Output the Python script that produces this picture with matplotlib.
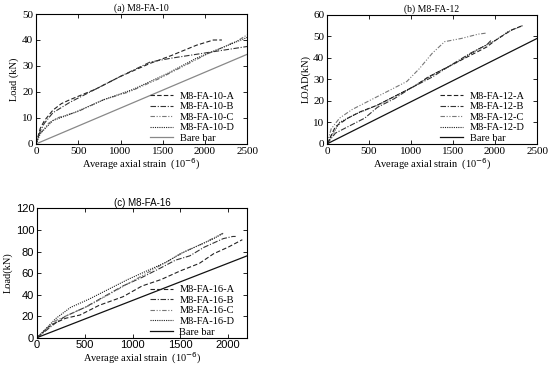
import numpy as np
import matplotlib
matplotlib.use('Agg')
import matplotlib.pyplot as plt

plt.rcParams['font.family'] = ['Liberation Serif', 'DejaVu Serif']

# (a) M8-FA-10
a_A_x = [0, 50, 100, 200, 300, 400, 700, 1000, 1350, 1600, 1900, 2100, 2200]
a_A_y = [0, 6, 9, 13, 15.5, 17, 21, 26, 31, 34, 38, 40, 40]
a_B_x = [0, 50, 100, 200, 400, 700, 1000, 1350, 1600, 1800, 2000, 2200, 2500]
a_B_y = [0, 5, 8, 12, 16, 21, 26, 31.5, 33, 34, 35, 36, 37.5]
a_C_x = [0, 50, 150, 250, 500, 800, 1100, 1450, 1750, 2050, 2200, 2400, 2500]
a_C_y = [0, 4, 8, 10, 12.5, 17, 20, 25, 30, 35, 37, 40, 42]
a_D_x = [0, 50, 200, 450, 800, 1150, 1550, 1900, 2200, 2500]
a_D_y = [0, 4, 9, 12, 17, 21, 27, 33, 37, 41]
a_bare_x = [0, 2500]
a_bare_y = [0, 34.5]

# (b) M8-FA-12
b_A_x = [0, 100, 250, 400, 600, 800, 1050, 1200, 1400, 1650, 1900, 2000, 2200, 2330]
b_A_y = [0, 8, 12, 15, 18, 22, 27, 31, 35, 40, 45, 48, 53, 55]
b_B_x = [0, 100, 250, 450, 600, 800, 1000, 1250, 1450, 1700, 1900, 1950]
b_B_y = [0, 5, 8, 12, 17, 21, 26, 31, 36, 42, 46, 48]
b_C_x = [0, 50, 150, 300, 550, 750, 950, 1100, 1250, 1400, 1600, 1800, 1900]
b_C_y = [0, 7, 12, 16, 21, 25, 29, 35, 42, 47.5, 49, 51, 51.5]
b_D_x = [0, 150, 350, 600, 800, 1000, 1300, 1550, 1800, 2000, 2150, 2330]
b_D_y = [0, 10, 14, 18, 22, 26, 33, 38, 44, 48, 52, 55]
b_bare_x = [0, 2500]
b_bare_y = [0, 49]

# (c) M8-FA-16
c_A_x = [0, 150, 300, 450, 650, 900, 1100, 1300, 1500, 1700, 1850, 2000, 2150]
c_A_y = [0, 12, 18, 21, 30, 38, 48, 54, 62, 69, 78, 84, 91]
c_B_x = [0, 200, 300, 500, 700, 900, 1100, 1300, 1450, 1600, 1750, 1950, 2050, 2080]
c_B_y = [0, 14, 20, 28, 38, 48, 56, 65, 72, 76, 84, 92, 94, 94]
c_C_x = [0, 200, 350, 550, 750, 950, 1150, 1350, 1550, 1750, 1900, 1950]
c_C_y = [0, 16, 22, 30, 40, 50, 60, 70, 80, 88, 95, 97]
c_D_x = [0, 200, 350, 550, 750, 950, 1150, 1350, 1500, 1700, 1850, 1950]
c_D_y = [0, 18, 28, 36, 45, 54, 62, 70, 78, 86, 92, 97]
c_bare_x = [0, 2200]
c_bare_y = [0, 76]

styles = [
    dict(color='#222222', ls=(0, (4, 2))),
    dict(color='#333333', ls=(0, (5, 1.5, 1, 1.5))),
    dict(color='#777777', ls=(0, (4, 1.5, 1, 1.5, 1, 1.5))),
    dict(color='#222222', ls=(0, (1, 1))),
]

fig = plt.figure(figsize=(5.5, 3.69), dpi=100)

def panel(rect, data, bare, bare_color, names, title, ylabel, xlim, ylim,
          xticks, yticks, sans=False):
    ax = fig.add_axes(rect)
    for (x, y), st, nm in zip(data, styles, names):
        ax.plot(x, y, lw=0.8, label=nm, **st)
    ax.plot(bare[0], bare[1], color=bare_color, lw=0.9, label='Bare bar')
    ax.set_xlim(xlim)
    ax.set_ylim(ylim)
    ax.set_xticks(xticks)
    ax.set_yticks(yticks)
    ax.tick_params(direction='in', top=True, right=True, labelsize=8,
                   length=3, width=0.6, pad=2)
    if sans:
        for lb in ax.get_xticklabels() + ax.get_yticklabels():
            lb.set_family('Liberation Sans')
            lb.set_fontsize(8)
    ax.set_title(title, fontsize=7, pad=2,
                 family='Liberation Sans' if sans else 'Liberation Serif')
    ax.set_ylabel(ylabel, fontsize=7.5, labelpad=2)
    ax.set_xlabel('Average axial strain  (10$^{-6}$)', fontsize=7.5, labelpad=0.5)
    for s in ax.spines.values():
        s.set_linewidth(0.8)
    ax.legend(loc='lower right', bbox_to_anchor=(0.97, -0.04), frameon=False,
              fontsize=7.5, handlelength=2.2, handletextpad=0.6,
              labelspacing=0.12, borderaxespad=0.2)
    return ax

panel([0.0655, 0.61, 0.384, 0.352],
      [(a_A_x, a_A_y), (a_B_x, a_B_y), (a_C_x, a_C_y), (a_D_x, a_D_y)],
      (a_bare_x, a_bare_y), '#888888',
      ['M8-FA-10-A', 'M8-FA-10-B', 'M8-FA-10-C', 'M8-FA-10-D'],
      '(a) M8-FA-10', 'Load (kN)', (0, 2500), (0, 50),
      [0, 500, 1000, 1500, 2000, 2500], [0, 10, 20, 30, 40, 50])

panel([0.5945, 0.61, 0.382, 0.35],
      [(b_A_x, b_A_y), (b_B_x, b_B_y), (b_C_x, b_C_y), (b_D_x, b_D_y)],
      (b_bare_x, b_bare_y), '#111111',
      ['M8-FA-12-A', 'M8-FA-12-B', 'M8-FA-12-C', 'M8-FA-12-D'],
      '(b) M8-FA-12', 'LOAD(kN)', (0, 2500), (0, 60),
      [0, 500, 1000, 1500, 2000, 2500], [0, 10, 20, 30, 40, 50, 60])

panel([0.0673, 0.085, 0.382, 0.35],
      [(c_A_x, c_A_y), (c_B_x, c_B_y), (c_C_x, c_C_y), (c_D_x, c_D_y)],
      (c_bare_x, c_bare_y), '#111111',
      ['M8-FA-16-A', 'M8-FA-16-B', 'M8-FA-16-C', 'M8-FA-16-D'],
      '(c) M8-FA-16', 'Load(kN)', (0, 2200), (0, 120),
      [0, 500, 1000, 1500, 2000], [0, 20, 40, 60, 80, 100, 120], sans=True)

fig.savefig('out.png', dpi=100)
